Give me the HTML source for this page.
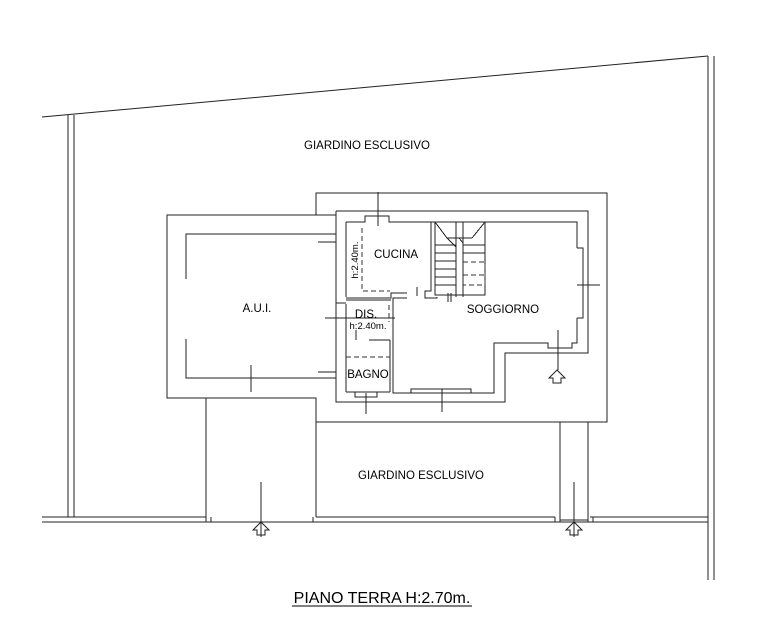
<!DOCTYPE html>
<html><head><meta charset="utf-8"><style>
html,body{margin:0;padding:0;background:#fff;width:765px;height:627px;overflow:hidden}
svg{display:block}
text{font-family:"Liberation Sans",sans-serif;fill:#000}
</style></head><body>
<svg width="765" height="627" viewBox="0 0 765 627" xmlns="http://www.w3.org/2000/svg">
<g stroke="#222" stroke-width="1" fill="none" shape-rendering="crispEdges">
<line x1="42" y1="117" x2="708" y2="56" shape-rendering="auto"/>
<line x1="68" y1="115" x2="68" y2="517"/><line x1="74" y1="115" x2="74" y2="517"/>
<line x1="708" y1="56" x2="708" y2="580"/><line x1="714" y1="56" x2="714" y2="580"/>
<line x1="42" y1="517" x2="206" y2="517"/><line x1="42" y1="522" x2="708" y2="522"/>
<line x1="316" y1="517" x2="555" y2="517"/><line x1="590" y1="517" x2="708" y2="517"/>
<line x1="206" y1="398" x2="206" y2="522"/><line x1="211" y1="517" x2="211" y2="522"/>
<line x1="313" y1="517" x2="313" y2="522"/>
<line x1="316" y1="422" x2="316" y2="517"/>
<line x1="560" y1="422" x2="560" y2="522"/><line x1="588" y1="422" x2="588" y2="522"/>
<line x1="555" y1="517" x2="555" y2="522"/><line x1="593" y1="517" x2="593" y2="522"/>
<line x1="560" y1="520" x2="588" y2="520"/>
<polyline points="316,215 316,193 607,193 607,422 316,422 316,398 167,398 167,215 316,215"/>
<line x1="316" y1="215" x2="336" y2="215"/>
<polyline points="186,279 186,234 336,234"/>
<polyline points="186,339 186,378 336,378"/>
<line x1="318" y1="242" x2="336" y2="242"/><line x1="318" y1="372" x2="336" y2="372"/>
<line x1="251" y1="365" x2="251" y2="392"/>
<polyline points="336,211 588,211 588,353 505,353 505,402 336,402 336,211"/>
<polyline points="577,248 583,248 583,318 577,318"/>
<line x1="577" y1="285" x2="600" y2="285"/>
<polyline points="346,222 346,297"/>
<polyline points="346,222 365,222 365,216 389,216 389,222 577,222 577,248"/>
<polyline points="577,318 577,343 572,343 572,348 548,348 548,343 494,343 494,393 471,393 471,389 411,389 411,393 393,393 393,298 407,298"/>
<line x1="411" y1="393" x2="471" y2="393"/>
<line x1="378" y1="192" x2="378" y2="226"/>
<line x1="558" y1="330" x2="558" y2="370"/>
<line x1="442" y1="389" x2="442" y2="412"/>
<line x1="366" y1="393" x2="366" y2="414"/>
<polyline points="346,298 391,298 391,293 407,293"/>
<line x1="346" y1="300" x2="391" y2="300"/>
<line x1="417" y1="287" x2="417" y2="296"/>
<polyline points="431,222 431,291 425,291 425,298 437,298 437,297"/>
<line x1="346" y1="304" x2="346" y2="392"/>
<polyline points="336,303 346,303"/>
<line x1="390" y1="340" x2="390" y2="392"/>
<line x1="369" y1="340" x2="390" y2="340"/>
<line x1="356" y1="330" x2="356" y2="340"/>
<line x1="346" y1="392" x2="390" y2="392"/>
<polyline points="355,392 355,397 377,397 377,392"/>
<line x1="325" y1="318" x2="395" y2="318"/>
<line x1="393" y1="315" x2="393" y2="325"/>
<rect x="435" y="222" width="50" height="73"/>
<line x1="456" y1="222" x2="456" y2="297"/><line x1="463" y1="222" x2="463" y2="297"/>
<line x1="435" y1="222" x2="447" y2="238"/><line x1="485" y1="222" x2="472" y2="238"/>
<line x1="447" y1="238" x2="472" y2="238"/><line x1="459" y1="238" x2="463" y2="243"/>
<line x1="447" y1="238" x2="456" y2="247"/>
<line x1="435" y1="253" x2="456" y2="253"/><line x1="435" y1="261" x2="456" y2="261"/>
<line x1="435" y1="269" x2="456" y2="269"/><line x1="435" y1="277" x2="456" y2="277"/>
<line x1="435" y1="285" x2="456" y2="285"/><line x1="435" y1="245" x2="456" y2="245"/>
<line x1="463" y1="245" x2="485" y2="245"/><line x1="463" y1="253" x2="485" y2="253"/>
<line x1="448" y1="293" x2="448" y2="302"/><line x1="451" y1="293" x2="451" y2="302"/>
</g>
<g stroke="#333" stroke-width="1" fill="none" stroke-dasharray="5,3" shape-rendering="crispEdges">
<polyline points="362,228 362,291 390,291"/>
<line x1="346" y1="357" x2="390" y2="357"/>
<line x1="389" y1="305" x2="389" y2="322"/>
<polyline points="463,262 485,262 485,285 463,285"/>
<line x1="463" y1="275" x2="485" y2="275"/>
</g>
<g stroke="#222" stroke-width="1" fill="#fff">
<polygon points="557,370 549,378 553,378 553,383 561,383 561,378 565,378"/>
<polygon points="261,522 253,530 257,530 257,535 265,535 265,530 269,530"/>
<polygon points="574,522 566,530 570,530 570,535 578,535 578,530 582,530"/>
</g>
<g stroke="#222" stroke-width="1" shape-rendering="crispEdges">
<line x1="261" y1="482" x2="261" y2="537"/><line x1="574" y1="482" x2="574" y2="537"/>
</g>
<text x="367" y="149" font-size="11.5" text-anchor="middle">GIARDINO ESCLUSIVO</text>
<text x="421" y="479" font-size="11.5" text-anchor="middle">GIARDINO ESCLUSIVO</text>
<text x="257" y="312" font-size="11.5" text-anchor="middle">A.U.I.</text>
<text x="396" y="258" font-size="11.5" text-anchor="middle">CUCINA</text>
<text x="503" y="313" font-size="11.5" text-anchor="middle">SOGGIORNO</text>
<text x="366" y="318" font-size="11.5" text-anchor="middle">DIS.</text>
<text x="368" y="329" font-size="9.5" text-anchor="middle" fill="#444">h:2.40m.</text>
<text x="368" y="378" font-size="11.5" text-anchor="middle">BAGNO</text>
<text transform="translate(358,260) rotate(-90)" font-size="9.5" text-anchor="middle" fill="#444">h:2.40m.</text>
<text x="382" y="603" font-size="16" text-anchor="middle">PIANO TERRA H:2.70m.</text>
<line x1="292" y1="606" x2="472" y2="606" stroke="#000" stroke-width="1" shape-rendering="crispEdges"/>
</svg>
</body></html>
